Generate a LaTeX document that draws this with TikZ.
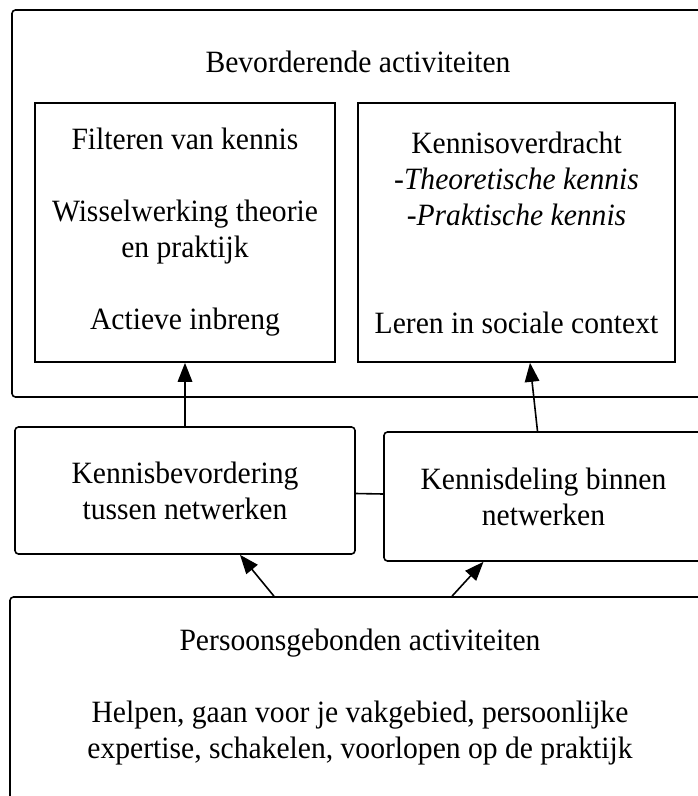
\documentclass[tikz,border=0pt]{standalone}
\usepackage{fontspec}
\setmainfont{Liberation Serif}[FakeStretch=0.955]
\usetikzlibrary{arrows.meta,calc}
\begin{document}
\begin{tikzpicture}[x=1pt,y=-1pt,
  every node/.style={font=\fontsize{31}{36}\selectfont},
  box/.style={draw,line width=1.6pt,inner sep=0pt,align=center},
  rbox/.style={box,rounded corners=3.5pt},
  conn/.style={line width=1.6pt},
  arr/.style={conn,-{Triangle[length=19pt,width=14.5pt]}}]
\useasboundingbox (0,0) rectangle (698,796);
\clip (0,0) rectangle (698,796);
\fill[white] (0,0) rectangle (698,796);
% outer top box
\node[rbox,minimum width=692pt,minimum height=387pt] (outer) at (358,203.5) {};
\node (title) at (358,62) {Bevorderende activiteiten};
% inner boxes
\node[box,minimum width=300pt,minimum height=259pt] (iL) at (185,232.5)
  {Filteren van kennis\\[36pt]Wisselwerking theorie\\en praktijk\\[36pt]Actieve inbreng};
\node[box,minimum width=317pt,minimum height=259pt] (iR) at (516.5,232.5)
  {Kennisoverdracht\\\textit{-Theoretische kennis}\\\textit{-Praktische kennis}\\[36pt]\strut\\Leren in sociale context};
% middle boxes
\node[rbox,minimum width=340pt,minimum height=127pt] (mL) at (185,490.5)
  {Kennisbevordering\\tussen netwerken};
\node[rbox,minimum width=319pt,minimum height=129pt] (mR) at (543.5,496.5)
  {Kennisdeling binnen\\netwerken};
% bottom box
\node[rbox,minimum width=700pt,minimum height=260pt] (bot) at (360,727) {};
\node[align=center] (btext) at (360,697)
  {Persoonsgebonden activiteiten\\[36pt]Helpen, gaan voor je vakgebied, persoonlijke\\expertise, schakelen, voorlopen op de praktijk};
% connectors
\draw[arr] (mL.north) -- (iL.south);
\draw[arr] ([xshift=-6pt]mR.north) -- ([xshift=13.5pt]iR.south);
\draw[conn] ([yshift=-3pt]mL.east) -- ([yshift=2.5pt]mR.west);
\draw[arr] ([xshift=-86pt]bot.north) -- ([xshift=55pt]mL.south);
\draw[arr] ([xshift=92pt]bot.north) -- ([xshift=-60pt]mR.south);
\end{tikzpicture}
\end{document}
